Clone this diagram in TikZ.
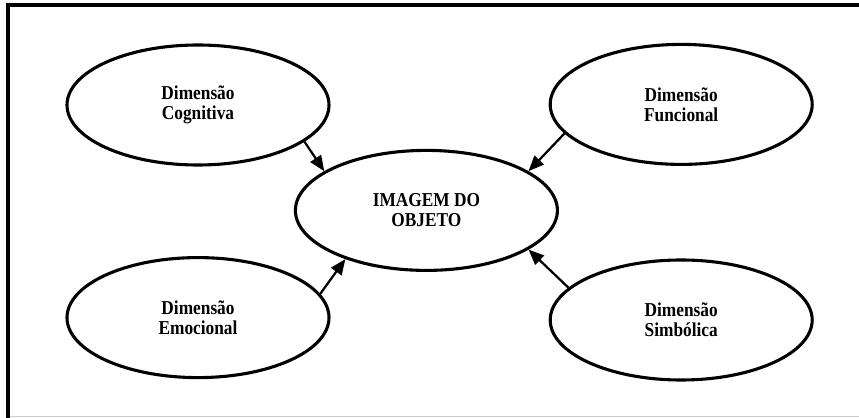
\documentclass[tikz,border=0pt]{standalone}
\usepackage{fontspec}
\setmainfont{Liberation Serif}[FakeStretch=0.88]
\usetikzlibrary{shapes.geometric,arrows.meta}

\tikzset{
  dimensao/.style={ellipse, draw, line width=2.2pt, minimum width=6.55cm, minimum height=3cm,
    align=center, inner sep=0pt, font=\fontsize{14}{14.2}\selectfont\bfseries},
  seta/.style={line width=1.6pt, -{Triangle[length=11pt,width=9pt]}}
}

\begin{document}
\begin{tikzpicture}
	%%%%% START %%%%%
	\useasboundingbox (0, 0) rectangle (21.475, 10.45);
	
	\draw[line width=0.5pt, color=black!20] (0.2, 0.05) -- (21.475, 0.05);
	\draw[line width=2.4pt] (0.2, 0) -- (0.2, 10.325) -- (21.475, 10.325);
	
	\node[dimensao] (imagem) at (10.66, 5.19) {IMAGEM DO\\OBJETO};
	
	\node[dimensao] (cognitiva) at (4.95, 7.825) {Dimensão\\Cognitiva};
	\node[dimensao] (funcional) at (17.03, 7.84) {Dimensão\\Funcional};
	\node[dimensao] (emocional) at (4.95, 2.51) {Dimensão\\Emocional};
	\node[dimensao] (simbolica) at (17.03, 2.45) {Dimensão\\Simbólica};
	
	\draw[seta] (cognitiva.-19) -- (imagem.159);
	\draw[seta] (funcional.194) -- (imagem.21);
	\draw[seta] (emocional.11) -- (imagem.211);
	\draw[seta] (simbolica.164) -- (imagem.-21);
	
	%%%%% END %%%%%
\end{tikzpicture}
\end{document}
